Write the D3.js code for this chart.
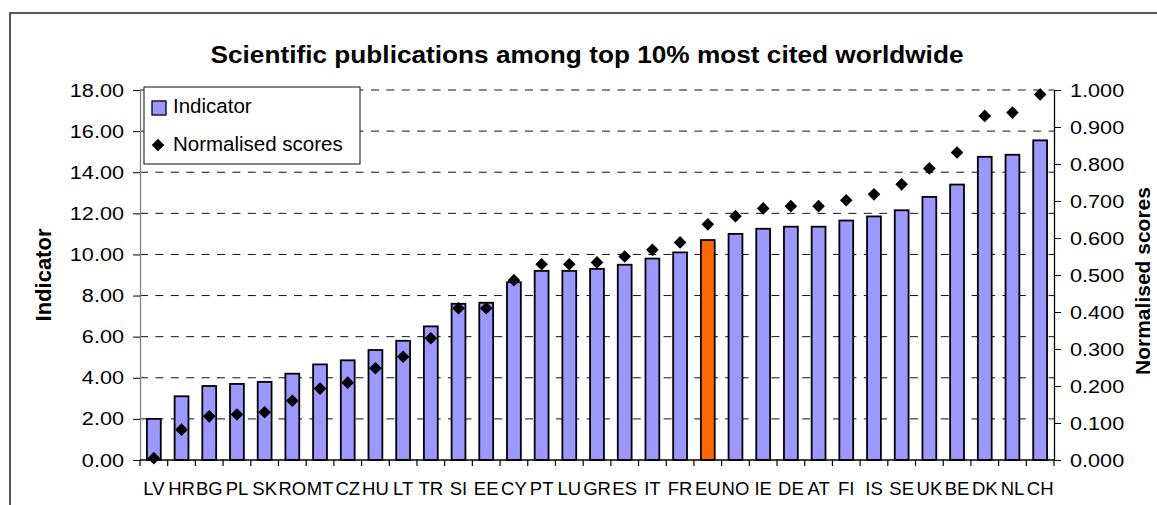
<!DOCTYPE html>
<html>
<head>
<meta charset="utf-8">
<script src="https://cdn.jsdelivr.net/npm/d3@7"></script>
<style>
  html, body { margin: 0; padding: 0; background: #fff; }
  svg { display: block; }
  text { font-family: Arial, "Liberation Sans", sans-serif; fill: #000; }
</style>
</head>
<body>
<svg id="chart" width="1157" height="505"></svg>
<script>
// Countries, in chart order
const categories = ["LV","HR","BG","PL","SK","RO","MT","CZ","HU","LT","TR","SI","EE","CY","PT","LU","GR","ES","IT","FR","EU","NO","IE","DE","AT","FI","IS","SE","UK","BE","DK","NL","CH"];
// Indicator value (left axis)
const indicator = [2.0,3.1,3.6,3.7,3.8,4.2,4.65,4.85,5.35,5.8,6.5,7.6,7.65,8.65,9.2,9.2,9.3,9.5,9.8,10.1,10.7,11.0,11.25,11.35,11.35,11.65,11.85,12.15,12.8,13.4,14.75,14.85,15.55];
// Normalised score (right axis)
const normalised = [0.005,0.082,0.118,0.123,0.129,0.160,0.193,0.209,0.248,0.279,0.329,0.410,0.410,0.486,0.529,0.529,0.534,0.550,0.568,0.588,0.637,0.659,0.680,0.686,0.686,0.702,0.718,0.745,0.788,0.831,0.930,0.939,0.988];
const leftTicks = [0,2,4,6,8,10,12,14,16,18];
const rightTicks = [0,0.1,0.2,0.3,0.4,0.5,0.6,0.7,0.8,0.9,1.0];
const highlight = "EU";
const title = "Scientific publications among top 10% most cited worldwide";

const svg = d3.select("#chart");
const plot = { left: 140, right: 1054, top: 90, bottom: 460 };

const x = d3.scaleBand().domain(categories)
  .range([plot.left, plot.right]).paddingInner(0.5).paddingOuter(0.25);
const yL = d3.scaleLinear().domain([0, 18]).range([plot.bottom, plot.top]);
const yR = d3.scaleLinear().domain([0, 1]).range([plot.bottom, plot.top]);

// widen text horizontally around its anchor point
function stretch(sel, k) {
  sel.each(function () {
    const t = d3.select(this);
    const ax = +t.attr("x") || 0, ay = +t.attr("y") || 0;
    t.attr("transform", `translate(${ax},${ay}) scale(${k},1) translate(${-ax},${-ay})`);
  });
}

// outer frame (top and left edges)
svg.append("path")
  .attr("d", "M10,505 V13 H1157")
  .attr("fill", "none").attr("stroke", "#222").attr("stroke-width", 1.5);

// dashed gridlines
svg.append("g").selectAll("line")
  .data(leftTicks.filter(d => d > 0))
  .join("line")
  .attr("x1", plot.left).attr("x2", plot.right)
  .attr("y1", d => yL(d)).attr("y2", d => yL(d))
  .attr("stroke", "#111").attr("stroke-width", 1)
  .attr("stroke-dasharray", "8,7.4");

// bars
svg.append("g").selectAll("rect")
  .data(categories)
  .join("rect")
  .attr("x", d => x(d))
  .attr("width", x.bandwidth())
  .attr("y", (d, i) => yL(indicator[i]))
  .attr("height", (d, i) => yL(0) - yL(indicator[i]))
  .attr("fill", d => d === highlight ? "#FF6600" : "#9999FF")
  .attr("stroke", "#000").attr("stroke-width", 1.8);

// left axis
const gL = svg.append("g").attr("transform", `translate(${plot.left},0)`)
  .call(d3.axisLeft(yL).tickValues(leftTicks).tickFormat(d3.format(".2f"))
    .tickSize(7).tickSizeOuter(0).tickPadding(9));
gL.select(".domain").attr("stroke", "#808080").attr("stroke-width", 1.3);
gL.selectAll(".tick line").attr("stroke", "#000");
gL.selectAll(".tick text").attr("font-size", 19).attr("font-family", "Arial, 'Liberation Sans', sans-serif").call(stretch, 1.14);

// right axis
const gR = svg.append("g").attr("transform", `translate(${plot.right},0)`)
  .call(d3.axisRight(yR).tickValues(rightTicks).tickFormat(d3.format(".3f"))
    .tickSize(7).tickSizeOuter(0).tickPadding(9));
gR.select(".domain").attr("stroke", "#000").attr("stroke-width", 1.3);
gR.selectAll(".tick line").attr("stroke", "#000");
gR.selectAll(".tick text").attr("font-size", 19).attr("font-family", "Arial, 'Liberation Sans', sans-serif").call(stretch, 1.14);

// bottom axis: category labels
const gB = svg.append("g").attr("transform", `translate(0,${plot.bottom})`)
  .call(d3.axisBottom(x).tickSize(0).tickSizeOuter(0).tickPadding(22));
gB.select(".domain").attr("stroke", "#000").attr("stroke-width", 1.3)
  .attr("d", `M${plot.left},0H${plot.right}`);
gB.selectAll(".tick text").attr("font-size", 18.5).attr("font-family", "Arial, 'Liberation Sans', sans-serif");

// tick marks between categories
const bounds = categories.map(d => x(d) - x.step() * x.paddingInner() / 2).concat([plot.right]);
svg.append("g").selectAll("line")
  .data(bounds)
  .join("line")
  .attr("x1", d => d).attr("x2", d => d)
  .attr("y1", plot.bottom).attr("y2", plot.bottom + 6)
  .attr("stroke", "#000").attr("stroke-width", 1.2);

// normalised-score diamonds
const diamond = d3.symbol().type(d3.symbolSquare).size(80);
svg.append("g").selectAll("path")
  .data(categories)
  .join("path")
  .attr("d", diamond)
  .attr("transform", (d, i) => `translate(${x(d) + x.bandwidth() / 2},${yR(normalised[i])}) rotate(45)`)
  .attr("fill", "#000");

// title
svg.append("text")
  .attr("x", 587).attr("y", 63)
  .attr("text-anchor", "middle")
  .attr("font-weight", "bold").attr("font-size", 23)
  .text(title)
  .call(stretch, 1.14);

// axis titles
svg.append("text")
  .attr("transform", "translate(51,275) rotate(-90)")
  .attr("text-anchor", "middle")
  .attr("font-weight", "bold").attr("font-size", 22)
  .text("Indicator");
svg.append("text")
  .attr("transform", "translate(1150,281) rotate(-90)")
  .attr("text-anchor", "middle")
  .attr("font-weight", "bold").attr("font-size", 21)
  .text("Normalised scores");

// legend
const lg = svg.append("g");
lg.append("rect")
  .attr("x", 144).attr("y", 87).attr("width", 216).attr("height", 77)
  .attr("fill", "#fff").attr("stroke", "#333").attr("stroke-width", 1.2);
lg.append("rect")
  .attr("x", 152).attr("y", 101).attr("width", 14).attr("height", 14)
  .attr("fill", "#9999FF").attr("stroke", "#000").attr("stroke-width", 1.3);
lg.append("text").attr("x", 173).attr("y", 113)
  .attr("font-size", 20.5).text("Indicator");
lg.append("path")
  .attr("d", diamond)
  .attr("transform", "translate(158,145) rotate(45)")
  .attr("fill", "#000");
lg.append("text").attr("x", 173).attr("y", 151)
  .attr("font-size", 20.5).text("Normalised scores");
</script>
</body>
</html>
